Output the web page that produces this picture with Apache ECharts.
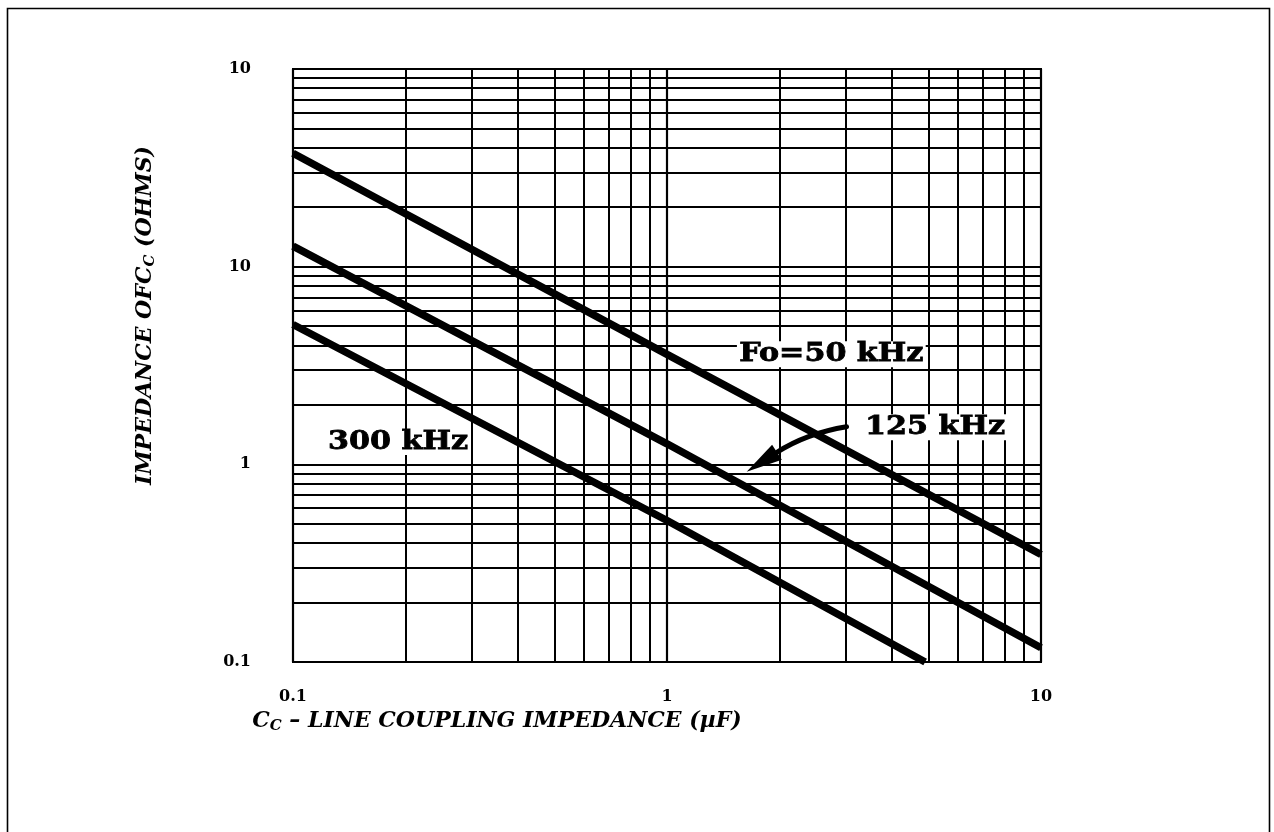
<!DOCTYPE html>
<html><head><meta charset="utf-8">
<script src="https://cdn.jsdelivr.net/npm/echarts@6/dist/echarts.min.js"></script>
<style>html,body{margin:0;padding:0;background:#fff}#c{width:1274px;height:832px}</style>
</head><body><div id="c"></div>
<script>
// ---- data ----
const capacitance = [0.1, 1, 10];          // µF
const z50 = [37.5, 3.6, 0.35];             // ohms, Fo = 50 kHz
const z125 = [12.7, 1.27, 0.118];          // ohms, 125 kHz
const capacitance300 = [0.1, 1, 4.9];      // µF
const z300 = [5.1, 0.52, 0.1];             // ohms, 300 kHz
const xTickLabels = ['0.1', '1', '10'];          // decades 0.1 .. 10
const yTickLabels = ['0.1', '1', '10', '10'];    // decades 0.1 .. 100 (as printed)
const seriesNames = ['Fo=50 kHz', '125 kHz', '300 kHz'];
// annotation anchors in data coordinates [C, Z]
const labelAnchors = [[2.75, 3.61], [5.21, 1.54], [0.191, 1.297]];
const arrowTail = [3.02, 1.55];
const arrowCtrl = [2.36, 1.435];
const arrowTip = [1.633, 0.918];

const zip = (xs, ys) => xs.map((x, i) => [x, ys[i]]);
const logIdx = v => Math.round(Math.log10(v)) + 1;

const serif = "'DejaVu Serif', 'Liberation Serif', serif";
const lineStyle = { color: '#000', width: 7.5, cap: 'butt' };
const titleRich = {
  a: { fontFamily: serif, fontStyle: 'italic', fontWeight: 'bold', fontSize: 22, color: '#000' },
  s: { fontFamily: serif, fontStyle: 'italic', fontWeight: 'bold', fontSize: 15, color: '#000', padding: [10, 0, 0, 0] }
};

const option = {
  animation: false,
  backgroundColor: '#fff',
  grid: { left: 293, top: 69, right: 233, bottom: 170, show: true, borderColor: '#000', borderWidth: 2, containLabel: false },
  xAxis: {
    type: 'log', logBase: 10, min: 0.1, max: 10,
    axisLine: { show: true, lineStyle: { color: '#000', width: 2 } },
    axisTick: { show: false },
    minorTick: { show: false, splitNumber: 9 },
    splitLine: { show: true, lineStyle: { color: '#000', width: 2.2 } },
    minorSplitLine: { show: true, lineStyle: { color: '#000', width: 2 } },
    axisLabel: { formatter: v => xTickLabels[logIdx(v)], color: '#000', fontFamily: serif, fontWeight: 'bold', fontSize: 16, margin: 27 },
    name: '{a|C}{s|C}{a| – LINE COUPLING IMPEDANCE (µF)}',
    nameLocation: 'middle', nameGap: 45,
    nameTextStyle: { padding: [0, 340, 0, 0], rich: titleRich }
  },
  yAxis: {
    type: 'log', logBase: 10, min: 0.1, max: 100,
    axisLine: { show: true, lineStyle: { color: '#000', width: 2 } },
    axisTick: { show: false },
    minorTick: { show: false, splitNumber: 9 },
    splitLine: { show: true, lineStyle: { color: '#000', width: 2.2 } },
    minorSplitLine: { show: true, lineStyle: { color: '#000', width: 2 } },
    axisLabel: { formatter: v => yTickLabels[logIdx(v)], color: '#000', fontFamily: serif, fontWeight: 'bold', fontSize: 16, margin: 42 },
    name: '{a|IMPEDANCE OF}{a|C}{s|C}{a| (OHMS)}',
    nameLocation: 'middle', nameGap: 135, nameRotate: 90,
    nameTextStyle: { padding: [0, 0, 0, 100], rich: titleRich }
  },
  series: [
    { name: seriesNames[0], type: 'line', data: zip(capacitance, z50), showSymbol: false, lineStyle, silent: true },
    { name: seriesNames[1], type: 'line', data: zip(capacitance, z125), showSymbol: false, lineStyle, silent: true },
    { name: seriesNames[2], type: 'line', data: zip(capacitance300, z300), showSymbol: false, lineStyle, silent: true }
  ]
};

const chart = echarts.init(document.getElementById('c'));
chart.setOption(option);

const px = p => chart.convertToPixel({ gridIndex: 0 }, p);
const graphics = [
  { type: 'rect', left: 5, top: 6, shape: { x: 0, y: 0, width: 1262, height: 900 }, style: { fill: 'none', stroke: '#000', lineWidth: 1.6 }, silent: true, z: 0 }
];
seriesNames.forEach((name, i) => {
  const p = px(labelAnchors[i]);
  graphics.push({
    type: 'text', x: p[0], y: p[1], scaleX: 1.16, z: 100,
    style: { text: name, fontFamily: serif, fontWeight: 'bold', fontSize: 26, fill: '#000', stroke: '#000', lineWidth: 0.8, align: 'center', verticalAlign: 'middle', backgroundColor: '#fff', padding: [0, 2] }
  });
});
const t = px(arrowTail), c = px(arrowCtrl), h = px(arrowTip);
let dx = c[0] - h[0], dy = c[1] - h[1];
const len = Math.hypot(dx, dy); dx /= len; dy /= len;
const headLen = 36, headHalf = 9;
const bx = h[0] + dx * headLen, by = h[1] + dy * headLen;
graphics.push({
  type: 'bezierCurve', z: 101,
  shape: { x1: t[0], y1: t[1], cpx1: c[0], cpy1: c[1], x2: bx, y2: by },
  style: { stroke: '#000', lineWidth: 5, fill: 'none', lineCap: 'round' }
});
graphics.push({
  type: 'polygon', z: 101,
  shape: { points: [[h[0], h[1]], [bx - dy * headHalf, by + dx * headHalf], [bx + dy * headHalf, by - dx * headHalf]] },
  style: { fill: '#000' }
});
chart.setOption({ graphic: graphics });
</script>
</body></html>
